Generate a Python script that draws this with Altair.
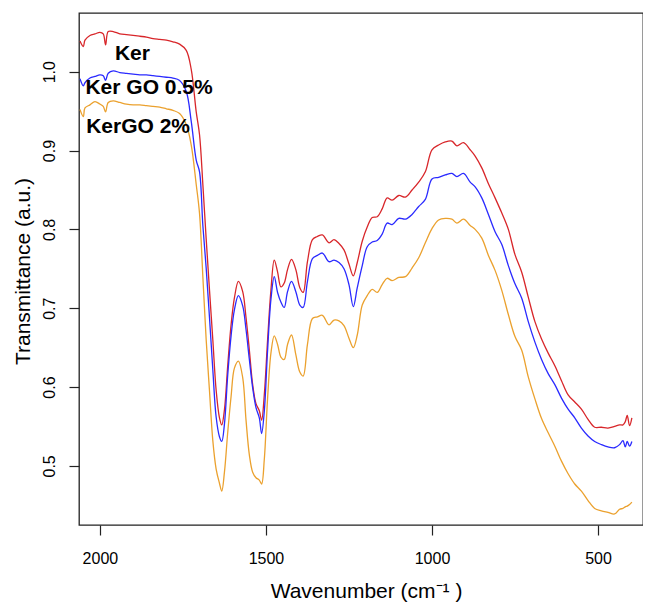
import altair as alt
import pandas as pd

# Wavenumber grid (cm^-1), shared by the three spectra
wavenumber = [2060, 2050, 2045, 2030, 2015, 2000, 1990, 1983, 1975, 1960,
              1940, 1920, 1900, 1880, 1860, 1840, 1820, 1800, 1780, 1760,
              1740, 1725, 1710, 1700, 1690, 1680, 1670, 1660, 1650, 1640,
              1633, 1625, 1615, 1605, 1595, 1583, 1570, 1560, 1550, 1540,
              1530, 1520, 1513, 1505, 1495, 1485, 1475, 1465, 1455, 1445,
              1435, 1423, 1410, 1398, 1388, 1375, 1360, 1345, 1330, 1310,
              1295, 1280, 1265, 1250, 1237, 1225, 1210, 1195, 1180, 1165,
              1150, 1135, 1120, 1100, 1080, 1060, 1040, 1020, 1000, 980,
              960, 940, 925, 905, 885, 870, 850, 830, 810, 790,
              770, 750, 730, 710, 690, 670, 650, 630, 610, 590,
              570, 550, 530, 510, 490, 470, 450, 435, 425, 418,
              412, 405, 398]

ker = [1.039, 1.032, 1.040, 1.046, 1.048, 1.050, 1.048, 1.034, 1.051, 1.051,
       1.048, 1.047, 1.046, 1.045, 1.044, 1.042, 1.041, 1.040, 1.038, 1.035,
       1.027, 1.003, 0.949, 0.920, 0.857, 0.788, 0.723, 0.660, 0.596, 0.561,
       0.552, 0.571, 0.628, 0.679, 0.713, 0.734, 0.721, 0.688, 0.647, 0.603,
       0.579, 0.570, 0.558, 0.590, 0.660, 0.723, 0.761, 0.746, 0.727, 0.732,
       0.749, 0.762, 0.749, 0.726, 0.720, 0.759, 0.787, 0.791, 0.793, 0.783,
       0.787, 0.782, 0.774, 0.756, 0.741, 0.758, 0.785, 0.803, 0.815, 0.816,
       0.826, 0.840, 0.837, 0.843, 0.841, 0.850, 0.860, 0.873, 0.901, 0.907,
       0.911, 0.912, 0.906, 0.910, 0.901, 0.893, 0.878, 0.858, 0.840, 0.821,
       0.800, 0.768, 0.746, 0.714, 0.683, 0.661, 0.643, 0.627, 0.608, 0.590,
       0.581, 0.572, 0.559, 0.549, 0.549, 0.548, 0.550, 0.552, 0.552, 0.556,
       0.564, 0.551, 0.561]

ker_go_05 = [0.991, 0.982, 0.986, 0.992, 0.994, 0.996, 0.995, 0.989, 0.998, 1.001,
             0.999, 0.998, 0.997, 0.996, 0.996, 0.995, 0.994, 0.993, 0.992, 0.989,
             0.975, 0.937, 0.888, 0.873, 0.805, 0.751, 0.688, 0.622, 0.562, 0.537,
             0.531, 0.553, 0.616, 0.665, 0.698, 0.716, 0.703, 0.673, 0.635, 0.599,
             0.574, 0.561, 0.541, 0.569, 0.647, 0.711, 0.740, 0.720, 0.708, 0.701,
             0.721, 0.734, 0.721, 0.704, 0.701, 0.734, 0.763, 0.767, 0.770, 0.759,
             0.761, 0.758, 0.750, 0.730, 0.702, 0.726, 0.754, 0.778, 0.784, 0.786,
             0.794, 0.808, 0.806, 0.814, 0.813, 0.819, 0.829, 0.838, 0.864, 0.866,
             0.869, 0.871, 0.867, 0.871, 0.860, 0.854, 0.840, 0.819, 0.797, 0.781,
             0.754, 0.731, 0.713, 0.683, 0.657, 0.635, 0.617, 0.603, 0.586, 0.572,
             0.561, 0.548, 0.538, 0.531, 0.527, 0.524, 0.523, 0.527, 0.532, 0.524,
             0.531, 0.525, 0.531]

ker_go_2 = [0.952, 0.943, 0.954, 0.958, 0.962, 0.959, 0.956, 0.949, 0.961, 0.963,
            0.961, 0.959, 0.958, 0.958, 0.957, 0.956, 0.955, 0.953, 0.951, 0.947,
            0.933, 0.907, 0.857, 0.820, 0.740, 0.660, 0.595, 0.532, 0.496, 0.478,
            0.468, 0.492, 0.543, 0.588, 0.624, 0.633, 0.612, 0.558, 0.514, 0.492,
            0.485, 0.482, 0.477, 0.508, 0.586, 0.643, 0.665, 0.654, 0.638, 0.635,
            0.654, 0.666, 0.641, 0.619, 0.614, 0.654, 0.687, 0.689, 0.691, 0.679,
            0.685, 0.684, 0.678, 0.662, 0.650, 0.666, 0.704, 0.716, 0.724, 0.720,
            0.730, 0.738, 0.735, 0.739, 0.740, 0.751, 0.764, 0.783, 0.801, 0.812,
            0.814, 0.813, 0.808, 0.813, 0.805, 0.800, 0.789, 0.767, 0.748, 0.723,
            0.692, 0.664, 0.647, 0.613, 0.585, 0.560, 0.542, 0.525, 0.506, 0.490,
            0.477, 0.468, 0.456, 0.446, 0.443, 0.441, 0.439, 0.445, 0.446, 0.448,
            0.449, 0.451, 0.454]

series_names = ["Ker", "Ker GO 0.5%", "KerGO 2%"]
series_colors = ["#d8262a", "#2a2aff", "#eba12e"]

# In-plot labels (data coordinates)
label_text = ["Ker", "Ker GO 0.5%", "KerGO 2%"]
label_wn = [1902, 1852, 1885]
label_T = [1.0152, 0.9717, 0.9222]

x_ticks = [2000, 1500, 1000, 500]
y_ticks = [0.5, 0.6, 0.7, 0.8, 0.9, 1.0]

rows = []
for name, vals in zip(series_names, [ker, ker_go_05, ker_go_2]):
    for w, v in zip(wavenumber, vals):
        rows.append({"wn": w, "T": v, "series": name})
df = pd.DataFrame(rows)
labels_df = pd.DataFrame({"wn": label_wn, "T": label_T, "text": label_text})

FONT = "Liberation Sans"

x_enc = alt.X(
    "wn:Q",
    scale=alt.Scale(domain=[364.5, 2063], reverse=True, nice=False, zero=False),
    axis=alt.Axis(
        values=x_ticks, format="d", title="Wavenumber (cm⁻¹ )",
        labelFontSize=16, labelBaseline="alphabetic", labelPadding=28,
        tickSize=10, titleFontSize=21, titleBaseline="alphabetic",
        titleY=72, titleX=287, titleAlign="center",
    ),
)
y_enc = alt.Y(
    "T:Q",
    scale=alt.Scale(domain=[0.425, 1.0745], nice=False, zero=False),
    axis=alt.Axis(
        values=y_ticks, format=".1f", title="Transmittance (a.u.)",
        labelFontSize=16, labelAngle=270, labelAlign="center",
        labelBaseline="alphabetic", labelPadding=15, tickSize=10,
        titleFontSize=21, titleAngle=270, titleBaseline="alphabetic",
        titleAlign="center", titleX=-50, titleY=258,
    ),
)

lines = alt.Chart(df).mark_line(strokeWidth=1.3, clip=True, interpolate="catmull-rom").encode(
    x=x_enc,
    y=y_enc,
    color=alt.Color("series:N", scale=alt.Scale(domain=series_names, range=series_colors), legend=None),
)

texts = alt.Chart(labels_df).mark_text(
    font=FONT, fontSize=21, fontWeight="bold", align="center",
    baseline="alphabetic", color="black",
).encode(x="wn:Q", y="T:Q", text="text:N")

chart = alt.layer(lines, texts).properties(
    width=564, height=512,
    autosize=alt.AutoSizeParams(type="none"),
    padding={"left": 71, "top": 5, "right": 0, "bottom": 78},
).configure_view(
    stroke="#222", strokeWidth=1.3
).configure_axis(
    grid=False, domain=False, tickColor="#222", tickWidth=1.2,
    labelColor="black", titleColor="black", labelFont=FONT, titleFont=FONT,
    titleFontWeight="normal",
)

chart.save("out.html", embed_options={"renderer": "svg", "actions": False})
